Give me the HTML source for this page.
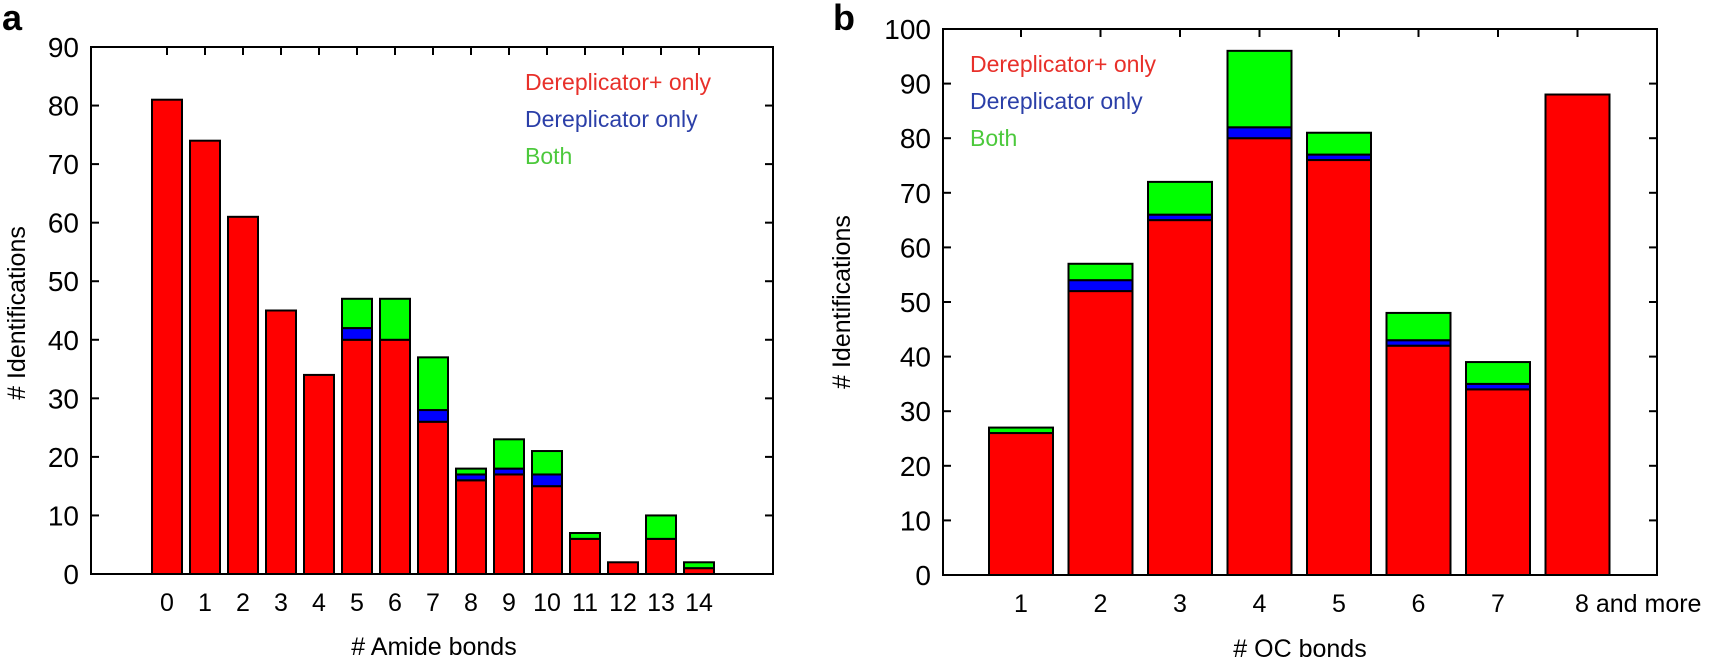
<!DOCTYPE html>
<html><head><meta charset="utf-8"><style>
html,body{margin:0;padding:0;background:#fff;width:1721px;height:661px;overflow:hidden}
svg text{font-family:"Liberation Sans",Arial,sans-serif}
</style></head><body>
<svg id="s" width="1721" height="661" xmlns="http://www.w3.org/2000/svg"></svg>
<script>
var s=document.getElementById('s'),h='';
function chart(o){
  var L=o.L,R=o.R,T=o.T,B=o.B,ppu=(B-T)/o.max;
  o.data.forEach(function(d,i){
    var cx=o.c0+o.p*i,x=cx-o.w/2,y=B,segs=[[d[0],'#ff0000'],[d[1],'#0000ff'],[d[2],'#00ff00']];
    segs.forEach(function(sg){if(sg[0]>0){var hh=sg[0]*ppu;y-=hh;
      h+='<rect x="'+x+'" y="'+y+'" width="'+o.w+'" height="'+hh+'" fill="'+sg[1]+'" stroke="#000" stroke-width="2"/>';}});
    h+='<line x1="'+cx+'" y1="'+T+'" x2="'+cx+'" y2="'+(T+8)+'" stroke="#000" stroke-width="2"/>';
    h+='<text x="'+(o.lx&&o.lx[i]?o.lx[i]:cx)+'" y="'+o.xlY+'" font-size="25" text-anchor="'+(o.lx&&o.lx[i]?'start':'middle')+'">'+o.labels[i]+'</text>';
  });
  for(var v=0;v<=o.max;v+=10){var yy=B-v*ppu;
    h+='<line x1="'+L+'" y1="'+yy+'" x2="'+(L+8)+'" y2="'+yy+'" stroke="#000" stroke-width="2"/>';
    h+='<line x1="'+R+'" y1="'+yy+'" x2="'+(R-8)+'" y2="'+yy+'" stroke="#000" stroke-width="2"/>';
    h+='<text x="'+(L-12)+'" y="'+(yy+10)+'" font-size="28" text-anchor="end">'+v+'</text>';}
  h+='<rect x="'+L+'" y="'+T+'" width="'+(R-L)+'" height="'+(B-T)+'" fill="none" stroke="#000" stroke-width="2"/>';
  var lg=[['Dereplicator+ only','#e8302a'],['Dereplicator only','#2b3fa8'],['Both','#4cc93c']];
  lg.forEach(function(l,i){h+='<text x="'+o.lgx+'" y="'+(o.lgy+37*i)+'" font-size="23" fill="'+l[1]+'">'+l[0]+'</text>';});
  h+='<text x="'+o.xtx+'" y="'+o.xty+'" font-size="25" text-anchor="middle">'+o.xt+'</text>';
  h+='<text transform="translate('+o.ytx+','+o.yty+') rotate(-90)" font-size="25" text-anchor="middle">'+o.yt+'</text>';
}
chart({L:91,R:773,T:47,B:574,max:90,c0:167,p:38,w:30,xlY:611,
 data:[[81,0,0],[74,0,0],[61,0,0],[45,0,0],[34,0,0],[40,2,5],[40,0,7],[26,2,9],[16,1,1],[17,1,5],[15,2,4],[6,0,1],[2,0,0],[6,0,4],[1,0,1]],
 labels:[0,1,2,3,4,5,6,7,8,9,10,11,12,13,14],lgx:525,lgy:90,xt:'# Amide bonds',xtx:434,xty:655,yt:'# Identifications',ytx:25,yty:313});
chart({L:943,R:1657,T:29,B:575,max:100,c0:1021,p:79.5,w:64,xlY:612,
 data:[[26,0,1],[52,2,3],[65,1,6],[80,2,14],[76,1,4],[42,1,5],[34,1,4],[88,0,0]],
 labels:[1,2,3,4,5,6,7,'8 and more'],lx:[0,0,0,0,0,0,0,1575],lgx:970,lgy:72,xt:'# OC bonds',xtx:1300,xty:657,yt:'# Identifications',ytx:850,yty:302});
h+='<text x="2" y="30" font-size="36" font-weight="bold">a</text>';
h+='<text x="833" y="30" font-size="36" font-weight="bold">b</text>';
s.innerHTML=h;
</script>
</body></html>
